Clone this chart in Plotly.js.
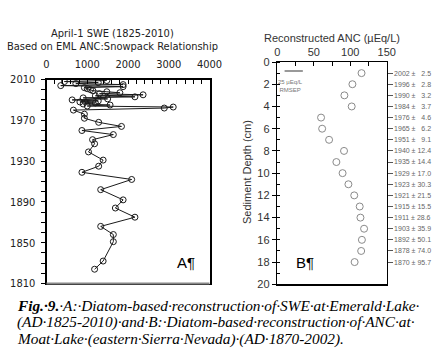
<!DOCTYPE html>
<html>
<head>
<meta charset="utf-8">
<script src="https://cdn.plot.ly/plotly-3.0.1.min.js"></script>
<style>
html,body{margin:0;padding:0;background:#fff;}
#chart{width:445px;height:357px;}
</style>
</head>
<body>
<div id="chart"></div>
<script>
// ---- Panel A: April-1 SWE reconstruction (Emerald Lake) ----
const sweYears = [2009, 2008, 2007, 2006, 2005, 2004, 2003, 2002, 2001, 2000,
  1999, 1998, 1997, 1996, 1995, 1994, 1993, 1992, 1991, 1990,
  1989, 1988, 1987, 1986, 1985, 1984, 1983, 1982, 1980, 1976,
  1972, 1968, 1964, 1960, 1956, 1951, 1947, 1939, 1931, 1925,
  1919, 1912, 1902, 1892, 1884, 1875, 1866, 1858, 1851, 1832, 1824];
const sweValues = [1480, 440, 1270, 720, 1880, 350, 1880, 930, 1000, 1080,
  1140, 1480, 1800, 1300, 2370, 1200, 2170, 900, 1500, 630,
  1270, 820, 1200, 900, 1560, 1000, 3110, 2890, 660, 930,
  930, 1280, 1840, 870, 1640, 1130, 1180, 1030, 1390, 1280,
  870, 2090, 1330, 1880, 1690, 2170, 1330, 1640, 1640, 1390, 1180];
const sweTickVals = [0, 1000, 2000, 3000, 4000];
const yearTickVals = [1810, 1850, 1890, 1930, 1970, 2010];

// ---- Panel B: reconstructed ANC (Moat Lake) ----
const depthCm = [1, 2, 3, 4, 5, 6, 7, 8, 9, 10, 11, 12, 13, 14, 15, 16, 17, 18];
const ancValues = [115.5, 103, 92, 102, 60, 61.5, 71, 91.5, 81, 89.5,
  97.5, 105.5, 113, 114, 119, 116, 115, 106];
const depthDates = ["2002 ±\u2007 2.5", "1996 ±\u2007 2.8", "1990 ±\u2007 3.2", "1984 ±\u2007 3.7",
  "1976 ±\u2007 4.6", "1965 ±\u2007 6.2", "1951 ±\u2007 9.1", "1940 ± 12.4", "1935 ± 14.4",
  "1929 ± 17.0", "1923 ± 30.3", "1921 ± 21.5", "1915 ± 15.5", "1911 ± 28.6",
  "1903 ± 35.9", "1892 ± 50.1", "1878 ± 74.0", "1870 ± 95.7"];

const W = 445, H = 357;
const px = v => v / W;
const py = v => 1 - v / H;

const narrow = "Liberation Sans Narrow, DejaVu Sans Condensed, Arial, sans-serif";
const sans = "Liberation Sans, Arial, sans-serif";
const serif = "Liberation Serif, Times New Roman, serif";

const traces = [
  {
    x: sweValues, y: sweYears, xaxis: 'x', yaxis: 'y',
    type: 'scatter', mode: 'lines+markers',
    line: {color: '#1a1a1a', width: 1},
    marker: {symbol: 'circle-open', size: 6, color: '#1a1a1a', line: {width: 1}},
    hoverinfo: 'x+y', showlegend: false
  },
  {
    x: ancValues, y: depthCm, xaxis: 'x2', yaxis: 'y2',
    type: 'scatter', mode: 'markers',
    marker: {symbol: 'circle-open', size: 7, color: '#8a8a8a', line: {width: 1}},
    hoverinfo: 'x+y', showlegend: false
  },
  {
    x: ancValues, y: depthCm, xaxis: 'x2', yaxis: 'y3',
    type: 'scatter', mode: 'markers',
    marker: {opacity: 0, size: 1},
    hoverinfo: 'skip', showlegend: false
  }
];

function note(text, x, y, font, extra) {
  return Object.assign({text: text, xref: 'paper', yref: 'paper', x: px(x), y: py(y),
    xanchor: 'center', yanchor: 'middle', showarrow: false, font: font}, extra || {});
}

const layout = {
  width: W, height: H,
  margin: {l: 0, r: 0, t: 0, b: 0},
  paper_bgcolor: '#fff', plot_bgcolor: '#fff',
  showlegend: false,
  xaxis: {
    domain: [px(46.5), px(209.5)], anchor: 'y', side: 'top',
    range: [0, 4000], tickvals: sweTickVals,
    ticks: 'inside', ticklen: 4, tickcolor: '#000', tickwidth: 1,
    minor: {dtick: 200, ticks: 'inside', ticklen: 4, tickcolor: '#000'},
    ticklabelstandoff: 6,
    showline: true, linecolor: '#000', linewidth: 1.5, mirror: true,
    showgrid: false, zeroline: false,
    tickfont: {family: narrow, size: 11, color: '#222'}
  },
  yaxis: {
    domain: [py(283.5), py(79.5)], anchor: 'x',
    range: [1810, 2010], tickvals: yearTickVals,
    ticks: 'outside', ticklen: 4, tickcolor: '#000',
    minor: {dtick: 10, tick0: 1810, ticks: 'outside', ticklen: 4, tickcolor: '#000'},
    ticklabelstandoff: 3,
    showline: true, linecolor: '#000', linewidth: 2, mirror: true,
    showgrid: false, zeroline: false,
    tickfont: {family: narrow, size: 11, color: '#222'}
  },
  xaxis2: {
    domain: [px(277.3), px(386.7)], anchor: 'y2', side: 'top',
    range: [0, 150], dtick: 50,
    ticks: 'inside', ticklen: 4, tickcolor: '#000',
    minor: {dtick: 25, ticks: 'inside', ticklen: 4, tickcolor: '#000'},
    showline: true, linecolor: '#000', linewidth: 1.5, mirror: true,
    showgrid: false, zeroline: false,
    tickfont: {family: sans, size: 11, color: '#333'}
  },
  yaxis2: {
    domain: [py(284.3), py(62)], anchor: 'x2',
    range: [20, 0], dtick: 2,
    ticks: 'outside', ticklen: 4, tickcolor: '#000',
    minor: {dtick: 1, ticks: 'inside', ticklen: 3, tickcolor: '#000'},
    showline: true, linecolor: '#000', linewidth: 1.5, mirror: true,
    showgrid: false, zeroline: false,
    tickfont: {family: sans, size: 11, color: '#333'}
  },
  yaxis3: {
    overlaying: 'y2', anchor: 'x2', side: 'right',
    range: [20, 0], tickvals: depthCm, ticktext: depthDates,
    ticks: 'outside', ticklen: 5, tickcolor: '#555',
    showline: false, showgrid: false, zeroline: false,
    tickfont: {family: sans, size: 7, color: '#666'}
  },
  shapes: [
    {type: 'line', xref: 'paper', yref: 'paper',
     x0: px(46.5), x1: px(209.5), y0: py(283.5), y1: py(283.5),
     line: {color: '#888', width: 2}},
    {type: 'line', xref: 'x2', yref: 'y2', x0: 10, x1: 35, y0: 0.8, y1: 0.8,
     line: {color: '#777', width: 1.5}}
  ],
  annotations: [
    note('April-1 SWE (1825-2010)', 112, 33, {family: narrow, size: 11, color: '#222'}),
    note('Based on EML ANC:Snowpack Relationship', 112, 47, {family: narrow, size: 11, color: '#222'}),
    note('A¶', 185.5, 262.5, {family: sans, size: 15, color: '#000'}),
    note('Reconstructed ANC (µEq/L)', 331.5, 38, {family: sans, size: 11, color: '#333'}),
    note('Sediment Depth (cm)', 247, 172, {family: sans, size: 11, color: '#333'}, {textangle: -90}),
    {text: '25 µEq/L<br>RMSEP', xref: 'x2', yref: 'y2', x: 18.5, y: 2.2,
     xanchor: 'center', yanchor: 'middle', showarrow: false, align: 'center',
     font: {family: sans, size: 6, color: '#777'}},
    note('B¶', 304.5, 262.5, {family: sans, size: 15, color: '#000'}),
    note('<b><i>Fig.·9.</i></b><i>·A:·Diatom-based·reconstruction·of·SWE·at·Emerald·Lake·</i>',
     15, 305, {family: serif, size: 15.3, color: '#000'}, {xanchor: 'left'}),
    note('<i>(AD·1825-2010)·and·B:·Diatom-based·reconstruction·of·ANC·at·</i>',
     15, 322, {family: serif, size: 15.3, color: '#000'}, {xanchor: 'left'}),
    note('<i>Moat·Lake·(eastern·Sierra·Nevada)·(AD·1870-2002).</i>',
     15, 338.5, {family: serif, size: 15.3, color: '#000'}, {xanchor: 'left'})
  ]
};

Plotly.newPlot('chart', traces, layout, {displayModeBar: false, staticPlot: true});
</script>
</body>
</html>
